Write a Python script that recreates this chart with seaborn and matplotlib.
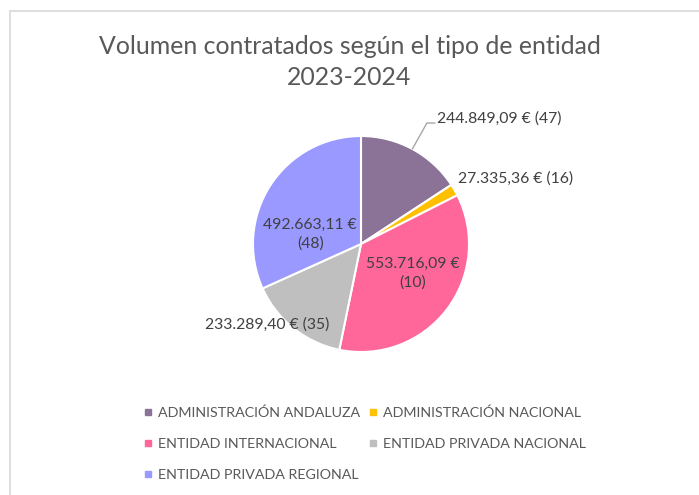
import numpy as np
import matplotlib
matplotlib.use("Agg")
import matplotlib.pyplot as plt
from matplotlib.lines import Line2D
import seaborn as sns

categories = ["ADMINISTRACIÓN ANDALUZA", "ADMINISTRACIÓN NACIONAL",
              "ENTIDAD INTERNACIONAL", "ENTIDAD PRIVADA NACIONAL",
              "ENTIDAD PRIVADA REGIONAL"]
amounts = [244849.09, 27335.36, 553716.09, 233289.40, 492663.11]
counts = [47, 16, 10, 35, 48]
label_texts = ["244.849,09 € (47)", "27.335,36 € (16)", "553.716,09 €\n(10)",
               "233.289,40 € (35)", "492.663,11 €\n(48)"]
colors = ["#8B7398", "#FFC000", "#FF6699", "#BFBFBF", "#9999FF"]
title = "Volumen contratados según el tipo de entidad\n2023-2024"

sns.set_theme(style="white")
plt.rcParams['font.family'] = ['Lato', 'DejaVu Sans']

W, H = 699, 495
fig = plt.figure(figsize=(W / 100, H / 100), dpi=100)

# pie geometry (pixels)
cx, cy, r = 361, 244, 108
ax = fig.add_axes([(cx - r) / W, 1 - (cy + r) / H, 2 * r / W, 2 * r / H])
wedges, _ = ax.pie(amounts, colors=colors, startangle=90, counterclock=False,
                   wedgeprops=dict(edgecolor="white", linewidth=1.5), radius=1)
ax.set_xlim(-1, 1)
ax.set_ylim(-1, 1)
ax.set_aspect("equal")
ax.axis("off")

txt_col = "#595959"
lab_col = "#404040"
# label placements (data units around the pie)
label_pos = [(0.70, 1.16, "left"), (0.90, 0.61, "left"), (0.48, -0.27, "center"),
             (-0.87, -0.75, "center"), (-0.47, 0.09, "center")]
for txt, (x, y, ha) in zip(label_texts, label_pos):
    ax.text(x, y, txt, ha=ha, va="center", fontsize=11.3, color=lab_col,
            linespacing=1.45, clip_on=False)

# leader line for first slice
w0 = wedges[0]
mid = np.deg2rad((w0.theta1 + w0.theta2) / 2)
ax.plot([np.cos(mid), 0.61, 0.685], [np.sin(mid), 1.12, 1.12],
        color="#A6A6A6", lw=1, clip_on=False)

fig.text(0.5, 1 - 62 / H, title, ha="center", va="center",
         fontsize=17.9, color=txt_col, linespacing=1.38)

# legend in Excel row-major order
order = [0, 2, 4, 1, 3]
handles = [Line2D([], [], marker="s", linestyle="none", markersize=5,
                  markerfacecolor=colors[i], markeredgecolor=colors[i]) for i in order]
labels = [categories[i] for i in order]
fig.legend(handles, labels, ncol=2, loc="center", bbox_to_anchor=(365 / W, 1 - 444 / H),
           frameon=False, fontsize=10.25, labelcolor=txt_col, handlelength=0.6,
           handletextpad=0.4, columnspacing=0.6, labelspacing=1.35)

# chart area border (top and left)
fig.add_artist(Line2D([10 / W, 10 / W], [0, 1 - 11 / H], color="#D9D9D9", lw=1.2,
                      transform=fig.transFigure))
fig.add_artist(Line2D([10 / W, 1], [1 - 11 / H, 1 - 11 / H], color="#D9D9D9", lw=1.2,
                      transform=fig.transFigure))

fig.savefig("out.png", dpi=100)
